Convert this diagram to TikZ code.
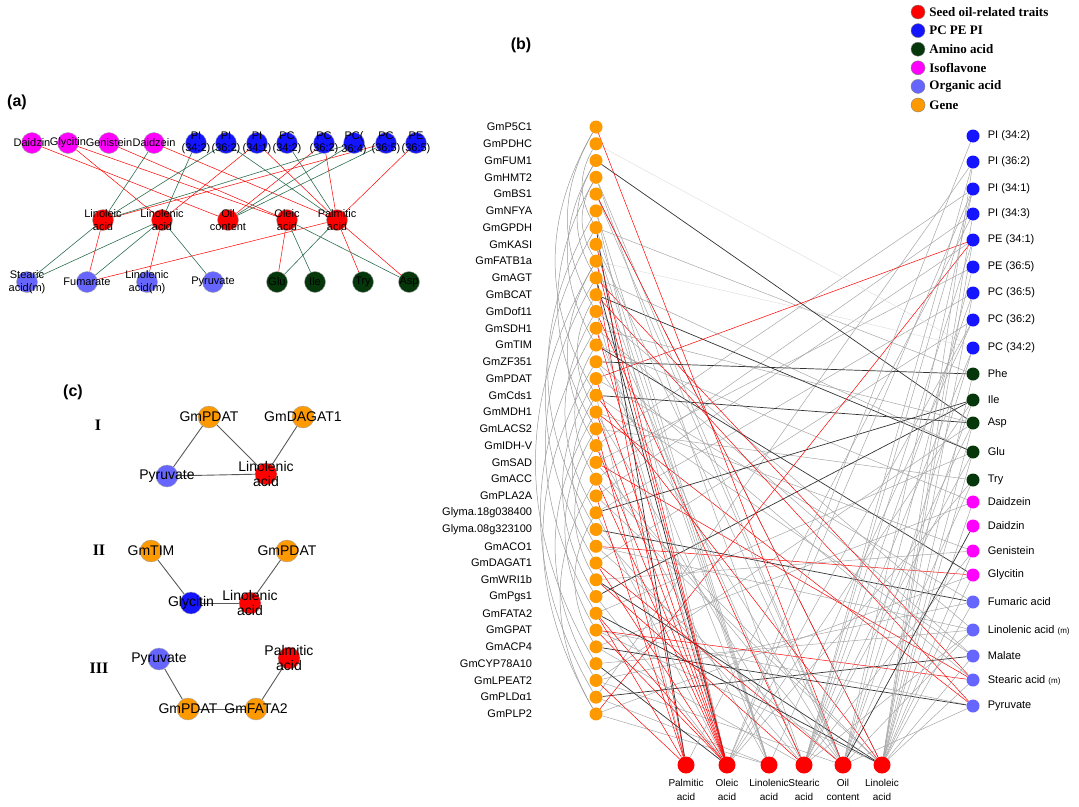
\documentclass[tikz,border=0pt]{standalone}
\usepackage{fontspec}
\setmainfont{Liberation Sans}
\newfontfamily\tnr{Liberation Serif}
\usetikzlibrary{positioning}
\definecolor{dtred}{RGB}{255,0,0}
\definecolor{dtblue}{RGB}{20,20,255}
\definecolor{dtgreen}{RGB}{5,55,10}
\definecolor{dtpink}{RGB}{255,0,255}
\definecolor{dtacid}{RGB}{102,102,255}
\definecolor{dtgene}{RGB}{255,153,0}
\definecolor{dtedge}{RGB}{45,110,80}
\pgfdeclarelayer{bg}
\pgfsetlayers{bg,main}
\tikzstyle{anode} = [circle, draw=gray!70, thin, minimum size=21pt, inner sep=0pt]
\tikzstyle{cnode} = [circle, draw=gray!70, thin, minimum size=22pt, inner sep=0pt]
\tikzstyle{bnode} = [circle, minimum size=13pt, inner sep=0pt]
\tikzstyle{tnode} = [circle, fill=dtred, minimum size=17pt, inner sep=0pt]
\tikzstyle{legdot} = [circle, draw=gray, thin, minimum size=14pt, inner sep=0pt]
\tikzstyle{alabel} = [font=\fontsize{11}{12.5}\selectfont, align=center, inner sep=0pt]
\tikzstyle{clabel} = [font=\fontsize{14}{15}\selectfont, align=center, inner sep=0pt]
\tikzstyle{glabel} = [font=\fontsize{11}{12}\selectfont, inner sep=0pt, label distance=57pt]
\tikzstyle{rlabel} = [font=\fontsize{11}{12}\selectfont, inner sep=0pt, label distance=8pt]
\tikzstyle{blabel} = [font=\fontsize{10}{14}\selectfont, align=center, inner sep=0pt, label distance=5pt]
\tikzstyle{legtext} = [font=\tnr\bfseries\fontsize{13}{14}\selectfont, inner sep=0pt, label distance=4pt]
\tikzstyle{panel} = [font=\bfseries\fontsize{16}{17}\selectfont]
\tikzstyle{roman} = [font=\tnr\bfseries\fontsize{16}{17}\selectfont]
\tikzstyle{ared} = [red, line width=0.5pt]
\tikzstyle{agrn} = [dtedge, line width=0.6pt]
\tikzstyle{bgray} = [black!35, line width=0.5pt]
\tikzstyle{blight} = [black!12, line width=0.5pt]
\tikzstyle{bdark} = [black!80, line width=0.7pt]
\tikzstyle{bred} = [red, line width=0.5pt]
\tikzstyle{garc} = [black!40, line width=0.5pt, bend right=30]
\tikzstyle{cedge} = [black!65, line width=0.9pt]

\begin{document}
\begin{tikzpicture}[x=1pt,y=-1pt]
\useasboundingbox (0,0) rectangle (1079,806);

% legend
\foreach \lcol/\ltxt [count=\i] in {dtred/Seed oil-related traits, dtblue/PC PE PI,
    dtgreen/Amino acid, dtpink/Isoflavone, dtacid/Organic acid, dtgene/Gene}
  \node[legdot, fill=\lcol, label={[legtext]right:\ltxt}] (leg\i) at (918,{12+18.6*(\i-1)}) {};

% panel labels
\node[panel] (pa) at (17,102) {(a)};
\node[panel] (pb) at (521,45) {(b)};
\node[panel] (pc) at (73,392) {(c)};

% (a) top row
\node[anode, fill=dtpink, label={[alabel]center:Daidzin}] (aDzin) at (32,143) {};
\node[anode, fill=dtpink, label={[alabel]center:Glycitin}] (aGcit) at (68,143) {};
\node[anode, fill=dtpink, label={[alabel]center:Genistein}] (aGen) at (109,143) {};
\node[anode, fill=dtpink, label={[alabel]center:Daidzein}] (aDzein) at (154,143) {};
\node[anode, fill=dtblue, label={[alabel]center:{PI\\(34:2)}}] (aPIa) at (196,143) {};
\node[anode, fill=dtblue, label={[alabel]center:{PI\\(36:2)}}] (aPIb) at (226,143) {};
\node[anode, fill=dtblue, label={[alabel]center:{PI\\(34:1)}}] (aPIc) at (257,143) {};
\node[anode, fill=dtblue, label={[alabel]center:{PC\\(34:2)}}] (aPCa) at (287,143) {};
\node[anode, fill=dtblue, label={[alabel]center:{PC\\(36:2)}}] (aPCb) at (324,143) {};
\node[anode, fill=dtblue, label={[alabel]center:{PC(\\36:4)}}] (aPCc) at (354,143) {};
\node[anode, fill=dtblue, label={[alabel]center:{PC\\(36:5)}}] (aPCd) at (386,143) {};
\node[anode, fill=dtblue, label={[alabel]center:{PE\\(36:5)}}] (aPEa) at (416,143) {};
% (a) traits
\node[anode, fill=dtred, label={[alabel]center:{Linoleic\\acid}}] (aLnl) at (103,220) {};
\node[anode, fill=dtred, label={[alabel]center:{Linolenic\\acid}}] (aLnn) at (162,220) {};
\node[anode, fill=dtred, label={[alabel]center:{Oil\\content}}] (aOil) at (228,220) {};
\node[anode, fill=dtred, label={[alabel]center:{Oleic\\acid}}] (aOle) at (287,220) {};
\node[anode, fill=dtred, label={[alabel]center:{Palmitic\\acid}}] (aPal) at (337,220) {};
% (a) bottom row
\node[anode, fill=dtacid, label={[alabel]center:{Stearic\\acid(m)}}] (aSte) at (27,282) {};
\node[anode, fill=dtacid, label={[alabel]center:Fumarate}] (aFum) at (87,282) {};
\node[anode, fill=dtacid, label={[alabel]center:{Linolenic\\acid(m)}}] (aLnm) at (147,282) {};
\node[anode, fill=dtacid, label={[alabel]center:Pyruvate}] (aPyr) at (213,282) {};
\node[anode, fill=dtgreen, label={[alabel]center:Glu}] (aGlu) at (277,282) {};
\node[anode, fill=dtgreen, label={[alabel]center:Ile}] (aIle) at (315,282) {};
\node[anode, fill=dtgreen, label={[alabel]center:Try}] (aTry) at (363,282) {};
\node[anode, fill=dtgreen, label={[alabel]center:Asp}] (aAsp) at (409,282) {};

\begin{pgfonlayer}{bg}
\foreach \a/\b in {aDzin/aOil, aGcit/aLnn, aGcit/aOle, aGen/aOle, aDzein/aPal,
    aPIc/aLnn, aPIc/aPal, aPCb/aOil, aPCb/aPal, aPCd/aLnl, aPEa/aPal,
    aLnl/aFum, aLnn/aLnm, aPal/aFum, aOle/aGlu, aPal/aTry, aPal/aAsp}
  \draw[ared] (\a) -- (\b);
\foreach \a/\b in {aDzein/aLnl, aPIa/aLnn, aPIb/aLnl, aPIb/aPal, aPCa/aPal,
    aPCc/aOil, aPCc/aLnl, aPCd/aOil, aLnl/aSte, aLnn/aSte, aLnn/aFum,
    aLnn/aPyr, aOle/aIle, aOle/aAsp, aPal/aGlu}
  \draw[agrn] (\a) -- (\b);
\end{pgfonlayer}

% (c) motifs
\node[roman] (rI) at (98,425) {I};
\node[roman] (rII) at (99,550) {II};
\node[roman] (rIII) at (99,668) {III};
\node[cnode, fill=dtgene, label={[clabel]center:GmPDAT}] (cIpdat) at (209,417) {};
\node[cnode, fill=dtgene, label={[clabel]center:GmDAGAT1}] (cIdag) at (303,417) {};
\node[cnode, fill=dtacid, label={[clabel]center:Pyruvate}] (cIpyr) at (167,476) {};
\node[cnode, fill=dtred, label={[clabel]center:{Linolenic\\acid}}] (cIlin) at (266,474) {};
\node[cnode, fill=dtgene, label={[clabel]center:GmTIM}] (cIItim) at (151,551) {};
\node[cnode, fill=dtgene, label={[clabel]center:GmPDAT}] (cIIpdat) at (287,551) {};
\node[cnode, fill=dtblue, label={[clabel]center:Glycitin}] (cIIgly) at (191,603) {};
\node[cnode, fill=dtred, label={[clabel]center:{Linolenic\\acid}}] (cIIlin) at (250,603) {};
\node[cnode, fill=dtacid, label={[clabel]center:Pyruvate}] (cIIIpyr) at (159,659) {};
\node[cnode, fill=dtred, label={[clabel]center:{Palmitic\\acid}}] (cIIIpal) at (289,658) {};
\node[cnode, fill=dtgene, label={[clabel]center:GmPDAT}] (cIIIpdat) at (188,709) {};
\node[cnode, fill=dtgene, label={[clabel]center:GmFATA2}] (cIIIfata) at (256,709) {};
\begin{pgfonlayer}{bg}
\foreach \a/\b in {cIpdat/cIpyr, cIpdat/cIlin, cIdag/cIlin, cIpyr/cIlin,
    cIItim/cIIgly, cIIgly/cIIlin, cIIlin/cIIpdat,
    cIIIpyr/cIIIpdat, cIIIpdat/cIIIfata, cIIIfata/cIIIpal}
  \draw[cedge] (\a) -- (\b);
\end{pgfonlayer}

% (b) genes
\foreach \gname [count=\i] in {GmP5C1,GmPDHC,GmFUM1,GmHMT2,GmBS1,GmNFYA,GmGPDH,
    GmKASI,GmFATB1a,GmAGT,GmBCAT,GmDof11,GmSDH1,GmTIM,GmZF351,GmPDAT,GmCds1,
    GmMDH1,GmLACS2,GmIDH-V,GmSAD,GmACC,GmPLA2A,Glyma.18g038400,Glyma.08g323100,
    GmACO1,GmDAGAT1,GmWRI1b,GmPgs1,GmFATA2,GmGPAT,GmACP4,GmCYP78A10,GmLPEAT2,
    GmPLDα1,GmPLP2}
  \node[bnode, fill=dtgene, label={[glabel]left:{\gname}}] (g\i) at (596,{127+16.77*(\i-1)}) {};
% (b) metabolites
\foreach \rname/\ry/\rcol [count=\i] in {{PI (34:2)}/136/dtblue, {PI (36:2)}/162/dtblue,
    {PI (34:1)}/189/dtblue, {PI (34:3)}/214/dtblue, {PE (34:1)}/240/dtblue,
    {PE (36:5)}/267/dtblue, {PC (36:5)}/293/dtblue, {PC (36:2)}/320/dtblue,
    {PC (34:2)}/348/dtblue, Phe/374/dtgreen, Ile/400/dtgreen, Asp/423/dtgreen,
    Glu/452/dtgreen, Try/480/dtgreen, Daidzein/502/dtpink, Daidzin/526/dtpink,
    Genistein/551/dtpink, Glycitin/575/dtpink, Fumaric acid/602/dtacid,
    {Linolenic acid {\fontsize{8}{9}\selectfont(m)}}/630/dtacid, Malate/656/dtacid,
    {Stearic acid {\fontsize{8}{9}\selectfont(m)}}/680/dtacid, Pyruvate/706/dtacid}
  \node[bnode, fill=\rcol, label={[rlabel]right:{\rname}}] (r\i) at (973,\ry) {};
% (b) traits
\foreach \bname/\bx [count=\i] in {{Palmitic\\acid}/686, {Oleic\\acid}/727,
    {Linolenic\\acid}/769, {Stearic\\acid}/804, {Oil\\content}/843, {Linoleic\\acid}/882}
  \node[tnode, label={[blabel]below:{\bname}}] (t\i) at (\bx,765) {};

\begin{pgfonlayer}{bg}
% gene to gene
\foreach \a/\b in {1/12,1/17,2/7,3/14,4/9,4/19,6/25,7/27,9/20,9/33,10/30,12/24,
    13/35,14/22,15/36,16/29,17/26,18/34,19/31,20/28,22/36,24/32,3/10,11/18}
  \draw[garc] (g\a) to (g\b);
% gene to metabolite
\foreach \a/\b in {7/10,10/13,12/20,13/12,13/21,14/15,15/22,
    16/19,17/21,18/17,19/14,20/3,21/6,22/4,23/5,24/7,26/20,27/8,28/17,30/13,
    31/23,32/15,33/20,34/19,34/12,35/2,36/18}
  \draw[bgray] (g\a) -- (r\b);
\foreach \a/\b in {2/9,9/9}
  \draw[blight] (g\a) -- (r\b);
\foreach \a/\b in {3/12,11/13,14/18,15/10,17/12,24/11,25/19,29/11,32/23,35/21}
  \draw[bdark] (g\a) -- (r\b);
\foreach \a/\b in {16/5,36/5,26/18,31/22,21/22,18/23,11/23,10/22}
  \draw[bred] (g\a) -- (r\b);
% gene to trait
\foreach \a/\b in {4/4,5/5,6/2,8/3,4/5,5/6,6/3,7/3,8/5,9/3,11/4,12/2,13/3,15/5,
    17/1,18/4,20/3,21/5,22/6,23/6,24/2,25/4,26/5,29/2,31/6,32/4,34/5,35/3,36/3}
  \draw[bgray] (g\a) -- (t\b);
\foreach \a/\b in {7/1,10/2,28/6,33/2,30/6}
  \draw[bdark] (g\a) -- (t\b);
\foreach \a/\b in {8/2,9/2,13/2,16/2,18/2,20/2,22/2,27/2,30/2,31/2,
    10/1,19/1,23/1,30/1,34/1,12/4,28/4,1/5,27/5,5/6,17/6}
  \draw[bred] (g\a) -- (t\b);
% metabolite to trait
\foreach \a/\b in {1/2,2/4,3/2,3/4,3/5,4/1,4/6,5/4,6/5,7/4,7/6,8/2,8/3,9/5,10/6,
    11/2,12/4,13/6,14/5,15/6,17/4,18/6,19/6,20/5,21/6,22/6,23/5,2/6,5/6,9/4,
    11/5,12/6,13/4,14/2,17/6,20/4}
  \draw[bgray] (r\a) -- (t\b);
\draw[bdark] (r16) -- (t5);
\end{pgfonlayer}
\end{tikzpicture}
\end{document}
